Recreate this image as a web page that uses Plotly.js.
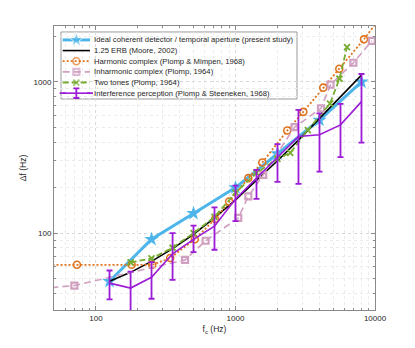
<!DOCTYPE html>
<html lang="en">

<head>
    <meta charset="UTF-8">
    <title>Frequency difference vs centre frequency</title>
    <script src="https://cdn.plot.ly/plotly-3.0.1.min.js"></script>
    <style>
        body {
            margin: 0;
            background-color: white;
        }

        #chart {
            width: 415px;
            height: 348px;
        }
    </style>
</head>

<body>
    <div id="chart"></div>

    <script>
        // Ideal coherent detector / temporal aperture (present study)
        const idealF = [125, 250, 500, 1000, 2000, 4000, 8000];
        const idealDf = [48, 91, 135, 200, 335, 560, 1000];

        // 1.25 ERB (Moore, 2002)
        const erbF = [125, 177, 250, 354, 500, 707, 1000, 1414, 2000, 2828, 4000, 5657, 8000];
        const erbDf = [48, 55, 65, 79, 98, 126, 166, 222, 301, 412, 571, 794, 1110];

        // Harmonic complex (Plomp & Mimpen, 1968) - the first and last points lie past the axes
        const harmF = [40, 73, 180, 253, 340, 511, 714, 900, 1236, 1556, 2350, 3063, 4255, 5546, 8337, 11000];
        const harmDf = [61.7, 61.7, 61.7, 61.7, 68.4, 91, 124, 162, 231, 293, 477, 634, 917, 1224, 1914, 2700];

        // Inharmonic complex (Plomp, 1964)
        const inharmF = [40, 70, 435, 611, 1047, 1236, 1580, 2650, 4100, 4800, 7000, 9500];
        const inharmDf = [43, 45, 66.5, 89, 126, 175, 243, 502, 670, 960, 1340, 1870];

        // Two tones (Plomp, 1964)
        const twoF = [177, 250, 354, 500, 707, 1000, 1414, 2000, 2470, 3300, 4760, 5560, 6300];
        const twoDf = [64, 68, 80, 100, 128, 185, 250, 310, 340, 480, 720, 1050, 1700];

        // Interference perception (Plomp & Steeneken, 1968): mean, upper and lower ends of the bars
        const intF = [125, 177, 250, 354, 500, 707, 1000, 1414, 2000, 2828, 4000, 5657, 8000];
        const intDf = [46.7, 43.3, 51, 73, 91, 111, 168, 231, 321, 436, 447, 520, 741];
        const intHi = [56.6, 55.7, 64.3, 100, 112, 148, 206, 262, 388, 653, 620, 715, 1129];
        const intLo = [36.5, 28, 36.8, 49.1, 74.9, 77.6, 120, 168.5, 218, 212, 255, 318, 397];

        const legendLabels = [
            'Ideal coherent detector / temporal aperture (present study)',
            '1.25 ERB (Moore, 2002)',
            'Harmonic complex (Plomp & Mimpen, 1968)',
            'Inharmonic complex (Plomp, 1964)',
            'Two tones (Plomp, 1964)',
            'Interference perception (Plomp & Steeneken, 1968)'
        ];

        const xTicks = [100, 1000, 10000];
        const yTicks = [100, 1000];

        const font = 'Liberation Sans, Arial, Helvetica, sans-serif';
        const purple = '#9b1bd6';

        // styles shared by the data traces and the legend samples
        const styles = [
            {
                mode: 'lines+markers',
                line: { color: '#4db5ea', width: 3 },
                marker: { symbol: 'star', size: 11, color: '#4db5ea' }
            },
            {
                mode: 'lines',
                line: { color: 'black', width: 1.6 },
                marker: { size: 0 }
            },
            {
                mode: 'lines+markers',
                line: { color: '#e0731c', width: 1.8, dash: '2px,2px' },
                marker: { symbol: 'circle-open', size: 7, color: '#e0731c', line: { width: 1.6 } }
            },
            {
                mode: 'lines+markers',
                line: { color: '#d0a0c0', width: 1.6, dash: '7px,4px' },
                marker: { symbol: 'square-open', size: 6, color: '#d0a0c0', line: { width: 2.2 } }
            },
            {
                mode: 'lines+markers',
                line: { color: '#77ac30', width: 1.8, dash: '6px,3px' },
                marker: { symbol: 'x-thin-open', size: 6, color: '#77ac30', line: { width: 1.8 } }
            },
            {
                mode: 'lines',
                line: { color: purple, width: 1.6 },
                marker: { size: 0 }
            }
        ];

        const series = [
            [idealF, idealDf],
            [erbF, erbDf],
            [harmF, harmDf],
            [inharmF, inharmDf],
            [twoF, twoDf],
            [intF, intDf]
        ];

        const traces = series.map((s, i) => Object.assign({
            type: 'scatter',
            x: s[0],
            y: s[1],
            showlegend: false,
            hoverinfo: 'skip'
        }, styles[i]));

        // error bars on the interference data
        traces[5].error_y = {
            type: 'data',
            symmetric: false,
            array: intHi.map((v, i) => v - intDf[i]),
            arrayminus: intLo.map((v, i) => intDf[i] - v),
            color: purple,
            thickness: 1.8,
            width: 3
        };

        // hand-made legend: samples drawn on hidden 0..1 axes over the plot
        const legTop = 0.951;
        const legStep = 0.0375;
        const legX = [0.027, 0.0696, 0.112];
        const annotations = [];

        legendLabels.forEach((label, i) => {
            const yRow = legTop - i * legStep;
            const sample = Object.assign({
                type: 'scatter',
                xaxis: 'x2',
                yaxis: 'y2',
                x: legX,
                y: [yRow, yRow, yRow],
                showlegend: false,
                hoverinfo: 'skip'
            }, JSON.parse(JSON.stringify(styles[i])));
            if (sample.marker.size) {
                const sz = sample.marker.size;
                sample.marker.size = [0, sz, 0];
            }
            if (i === 5) {
                sample.error_y = {
                    type: 'data',
                    array: [0, 0.017, 0],
                    color: purple,
                    thickness: 1.8,
                    width: 3
                };
            }
            traces.push(sample);

            annotations.push({
                xref: 'paper',
                yref: 'paper',
                x: 0.118,
                y: yRow,
                xanchor: 'left',
                yanchor: 'middle',
                text: label,
                showarrow: false,
                font: { family: font, size: 7.7, color: '#262626' }
            });
        });

        const axisCommon = {
            type: 'log',
            showline: true,
            linecolor: '#8a8a8a',
            linewidth: 1,
            mirror: 'ticks',
            ticks: 'inside',
            ticklen: 4,
            tickcolor: '#8a8a8a',
            tickmode: 'array',
            showgrid: true,
            gridcolor: '#dadada',
            griddash: 'dot',
            gridwidth: 1,
            zeroline: false,
            tickfont: { family: font, size: 8, color: '#262626' },
            minor: {
                dtick: 'D1',
                ticks: 'inside',
                ticklen: 2,
                tickcolor: '#8a8a8a',
                showgrid: true,
                gridcolor: '#ebebeb',
                griddash: 'dot'
            }
        };

        const layout = {
            width: 415,
            height: 348,
            margin: { l: 54, r: 40, t: 26, b: 38 },
            paper_bgcolor: 'white',
            plot_bgcolor: 'white',
            showlegend: false,
            xaxis: Object.assign({}, axisCommon, {
                range: [Math.log10(50), 4],
                tickvals: xTicks,
                ticktext: xTicks.map(String),
                title: {
                    text: 'f<sub>c</sub> (Hz)',
                    standoff: 4,
                    font: { family: font, size: 8.5, color: '#262626' }
                }
            }),
            yaxis: Object.assign({}, axisCommon, {
                range: [Math.log10(31), Math.log10(2345)],
                tickvals: yTicks,
                ticktext: yTicks.map(String),
                title: {
                    text: 'Δf (Hz)',
                    standoff: 5,
                    font: { family: font, size: 8.5, color: '#262626' }
                }
            }),
            xaxis2: {
                overlaying: 'x',
                range: [0, 1],
                visible: false,
                fixedrange: true
            },
            yaxis2: {
                overlaying: 'y',
                range: [0, 1],
                visible: false,
                fixedrange: true
            },
            shapes: [{
                type: 'rect',
                xref: 'paper',
                yref: 'paper',
                x0: 0.0218,
                x1: 0.757,
                y0: 0.743,
                y1: 0.979,
                layer: 'between',
                fillcolor: 'white',
                line: { color: '#9a9a9a', width: 1 }
            }],
            annotations: annotations
        };

        Plotly.newPlot('chart', traces, layout, { displayModeBar: false, staticPlot: true });
    </script>
</body>

</html>
